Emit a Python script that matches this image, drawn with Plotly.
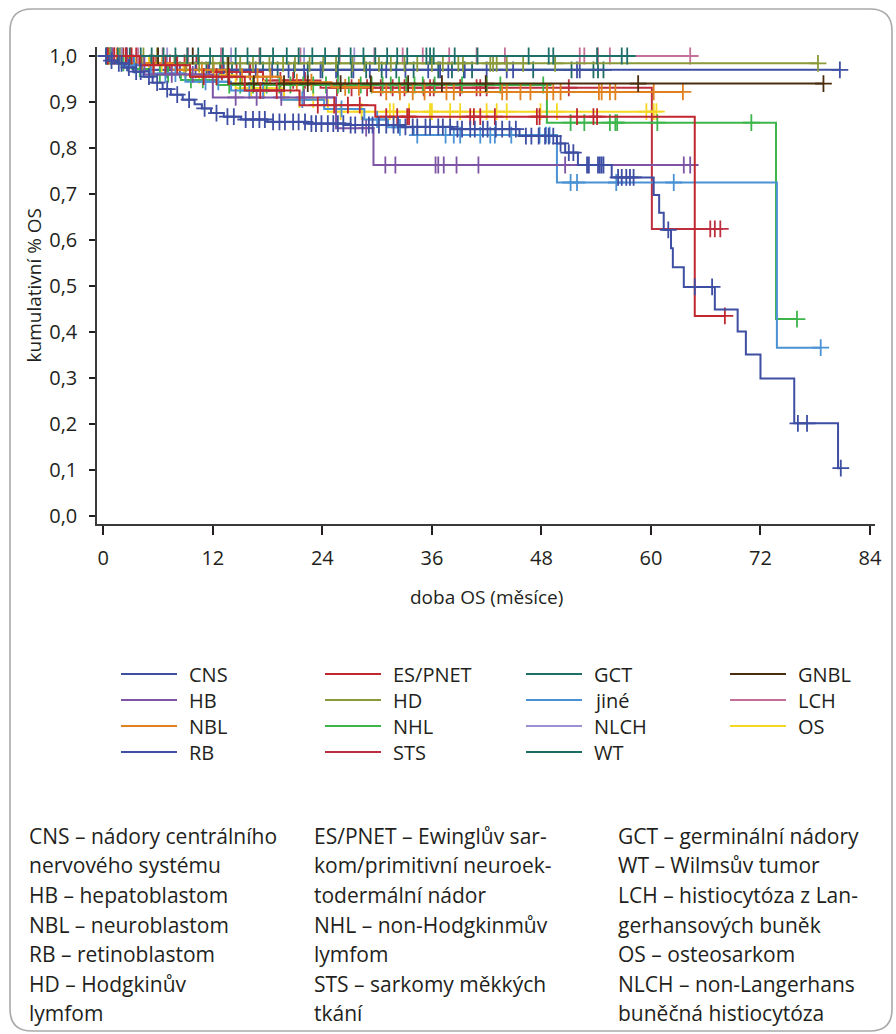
import numpy as np
import plotly.graph_objects as go

# ---------------- data (Kaplan-Meier curves) ----------------
groups = ["CNS", "ES/PNET", "GCT", "GNBL", "HB", "HD", "jiné", "LCH",
          "NBL", "NHL", "NLCH", "OS", "RB", "STS", "WT"]

colors = {
    "CNS": "#3D4EA3", "ES/PNET": "#C0272F", "GCT": "#1E6F68", "GNBL": "#4A2C0E",
    "HB": "#7E55A5", "HD": "#8A9A3A", "jiné": "#4A92D4", "LCH": "#C46F97",
    "NBL": "#E0801F", "NHL": "#3DB54A", "NLCH": "#9C8FD2", "OS": "#F6D824",
    "RB": "#3F4FA3", "STS": "#BD2F3E", "WT": "#1D6A62",
}

# event times (months) and survival after each event; censor times
CNS_t = [0.6, 1.4, 2.3, 3.3, 4.4, 5.4, 6.5, 7.4, 8.7, 10.0, 10.8, 11.8, 13.2, 15.1, 18.0,
         22.4, 26.5, 32.7, 38.2, 45.6, 49.7, 50.6, 52.0, 55.7, 60.3, 60.9, 61.4, 62.2,
         62.4, 63.6, 67.0, 69.5, 70.4, 72.0, 75.7, 80.5]
CNS_s = [0.99, 0.984, 0.975, 0.966, 0.955, 0.942, 0.928, 0.916, 0.905, 0.895, 0.886, 0.876,
         0.868, 0.862, 0.857, 0.853, 0.85, 0.846, 0.841, 0.826, 0.81, 0.79, 0.763, 0.736,
         0.698, 0.659, 0.622, 0.582, 0.541, 0.498, 0.449, 0.401, 0.351, 0.299, 0.2015, 0.104]
CNS_c = [0.3, 0.9, 1.7, 2.0, 2.8, 3.6, 4.1, 5.0, 5.9, 7.0, 8.1, 9.4, 11.1, 12.4, 13.6, 14.3,
         15.6, 16.4, 17.1, 17.7, 18.6, 19.3, 19.9, 20.8, 21.4, 22.1, 22.8, 23.3, 23.9, 24.6,
         25.2, 25.7, 26.3, 27.1, 27.6, 28.4, 29.1, 29.5, 30.2, 31.0, 31.8, 32.3, 33.1, 33.9,
         34.4, 35.3, 35.8, 36.7, 37.2, 38.0, 38.8, 39.3, 40.2, 40.7, 41.6, 42.1, 43.0, 43.7,
         44.5, 45.2, 46.3, 46.9, 47.7, 48.4, 48.8, 49.3, 50.1, 51.0, 51.5, 53.0, 53.2, 54.2,
         54.4, 54.6, 54.8, 56.4, 56.8, 57.3, 57.7, 58.1, 61.9, 64.8, 66.7, 76.1, 77.1, 80.8]

ESP_t = [4.0, 9.5, 15.5, 21.5, 29.8, 64.8]
ESP_s = [0.98, 0.955, 0.925, 0.893, 0.868, 0.435]
ESP_c = [0.5, 1.2, 2.5, 3.1, 5.5, 6.8, 8.1, 11.0, 12.4, 13.8, 17.2, 19.0, 23.5, 25.3, 26.8,
         28.1, 31.0, 32.2, 33.3, 33.5, 40.2, 40.6, 41.3, 42.9, 47.5, 47.8, 51.9, 53.7, 54.1, 68.1]

GCT_t = []
GCT_s = []
GCT_c = [0.4, 1.6, 2.9, 4.1, 5.3, 6.6, 7.9, 9.2, 10.4, 11.7, 13.1, 14.5, 15.8, 17.2, 18.6,
         20.1, 21.4, 22.9, 24.3, 25.8, 27.1, 28.5, 29.8, 31.1, 32.2, 33.3, 35.4, 35.8, 36.2,
         38.5, 41.0, 46.6, 48.8, 49.3, 54.1, 56.8, 57.4]

GNBL_t = [13.7]
GNBL_s = [0.94]
GNBL_c = [2.5, 6.0, 9.8, 16.5, 19.8, 22.4, 26.0, 29.3, 33.4, 37.1, 41.9, 58.6, 78.9]

HB_t = [4.5, 12.0, 25.5, 29.6]
HB_s = [0.96, 0.91, 0.843, 0.763]
HB_c = [1.0, 2.6, 7.5, 9.8, 14.5, 16.8, 19.5, 22.0, 24.5, 28.8, 30.9, 32.0, 36.4, 36.7, 37.3,
        38.7, 41.1, 50.6, 63.6, 64.3]

HD_t = [7.8]
HD_s = [0.984]
HD_c = [0.7, 1.8, 3.0, 4.4, 5.9, 9.1, 10.5, 12.0, 13.6, 15.0, 16.4, 18.2, 19.7, 21.0, 22.6,
        24.1, 25.5, 27.3, 28.6, 30.2, 31.5, 33.0, 34.4, 36.0, 37.2, 38.9, 39.4, 42.4, 42.7,
        43.1, 44.2, 46.0, 49.5, 78.3]

JINE_t = [2.0, 5.2, 9.0, 14.0, 19.5, 24.2, 28.6, 31.2, 34.0, 49.7, 73.8]
JINE_s = [0.98, 0.962, 0.944, 0.925, 0.905, 0.885, 0.862, 0.845, 0.828, 0.725, 0.366]
JINE_c = [0.8, 3.4, 6.8, 7.9, 11.2, 12.6, 16.0, 17.5, 21.8, 26.1, 30.0, 32.5, 34.4, 37.5,
          38.4, 39.1, 41.3, 42.4, 42.9, 44.7, 47.8, 48.5, 48.9, 51.2, 51.9, 56.2, 62.5, 78.6]

LCH_t = []
LCH_s = []
LCH_c = [1.2, 3.8, 6.5, 9.3, 12.9, 17.1, 21.6, 25.9, 29.7, 32.8, 35.0, 37.9, 40.9, 44.0,
         52.2, 52.7, 54.2, 55.5, 64.3]

NBL_t = [2.8, 7.5, 13.5, 19.5, 25.0, 29.5]
NBL_s = [0.985, 0.97, 0.955, 0.943, 0.932, 0.922]
NBL_c = [0.5, 1.5, 4.2, 5.5, 9.0, 10.8, 12.1, 15.2, 16.9, 18.3, 21.2, 22.8, 26.5, 28.0, 31.0,
         32.5, 33.9, 35.2, 37.6, 38.4, 43.7, 44.2, 45.7, 46.8, 48.6, 49.3, 50.1, 54.3, 54.6,
         55.5, 56.1, 60.3, 63.5]

NHL_t = [1.5, 3.2, 5.0, 8.5, 12.5, 48.6, 73.7]
NHL_s = [0.985, 0.972, 0.96, 0.948, 0.937, 0.855, 0.428]
NHL_c = [0.3, 0.9, 2.2, 4.0, 6.2, 7.1, 9.6, 10.9, 13.8, 15.0, 16.4, 17.9, 19.3, 20.5, 21.9,
         23.0, 24.4, 25.7, 26.9, 28.2, 29.4, 30.6, 31.5, 32.4, 33.2, 34.1, 35.0, 36.3, 39.3,
         42.0, 43.5, 48.2, 51.2, 52.7, 55.5, 56.1, 56.3, 60.7, 71.0, 76.0]

NLCH_t = []
NLCH_s = []
NLCH_c = [2.0, 7.0, 14.0, 22.0, 27.5]

OS_t = [1.8, 8.8, 14.5, 19.8, 24.6]
OS_s = [0.982, 0.958, 0.93, 0.905, 0.879]
OS_c = [0.6, 3.5, 5.0, 6.4, 10.5, 12.0, 16.2, 17.6, 21.5, 23.0, 26.0, 28.3, 31.4, 31.8, 33.5,
        35.8, 36.0, 38.0, 39.1, 42.0, 43.1, 44.2, 47.9, 49.7, 59.5, 60.3, 60.6]

RB_t = [1.5, 4.2]
RB_s = [0.985, 0.97]
RB_c = [0.5, 2.6, 3.3, 5.5, 7.0, 8.4, 10.1, 11.6, 13.2, 15.0, 16.7, 18.5, 20.3, 22.0, 23.8,
        25.5, 27.4, 29.2, 31.0, 33.1, 35.6, 36.9, 37.8, 39.6, 42.0, 44.2, 44.9, 51.9, 52.2, 80.7]

STS_t = [5.8, 11.5, 17.5, 23.8, 60.1]
STS_s = [0.985, 0.965, 0.947, 0.931, 0.624]
STS_c = [0.9, 2.2, 3.6, 7.3, 8.9, 10.2, 13.0, 14.6, 16.1, 19.4, 20.8, 22.1, 25.6, 27.2, 28.9,
         30.4, 31.7, 33.0, 35.1, 35.8, 36.2, 39.1, 40.9, 41.3, 42.0, 51.0, 66.5, 67.0, 67.6]

WT_t = [3.5, 9.5]
WT_s = [0.985, 0.97]
WT_c = [0.8, 2.0, 5.1, 6.9, 8.0, 11.3, 12.8, 14.1, 16.0, 17.5, 19.1, 20.9, 22.4, 24.0, 25.7,
        27.2, 28.8, 30.5, 32.1, 34.0, 36.7, 38.2, 39.5, 40.4, 47.1, 51.3, 53.7, 54.2, 54.8]

series = {
    "CNS": (CNS_t, CNS_s, CNS_c), "ES/PNET": (ESP_t, ESP_s, ESP_c),
    "GCT": (GCT_t, GCT_s, GCT_c), "GNBL": (GNBL_t, GNBL_s, GNBL_c),
    "HB": (HB_t, HB_s, HB_c), "HD": (HD_t, HD_s, HD_c), "jiné": (JINE_t, JINE_s, JINE_c),
    "LCH": (LCH_t, LCH_s, LCH_c), "NBL": (NBL_t, NBL_s, NBL_c), "NHL": (NHL_t, NHL_s, NHL_c),
    "NLCH": (NLCH_t, NLCH_s, NLCH_c), "OS": (OS_t, OS_s, OS_c), "RB": (RB_t, RB_s, RB_c),
    "STS": (STS_t, STS_s, STS_c), "WT": (WT_t, WT_s, WT_c),
}

x_ticks = [0, 12, 24, 36, 48, 60, 72, 84]
y_ticks = [0.0, 0.1, 0.2, 0.3, 0.4, 0.5, 0.6, 0.7, 0.8, 0.9, 1.0]
y_ticktext = ["0,0", "0,1", "0,2", "0,3", "0,4", "0,5", "0,6", "0,7", "0,8", "0,9", "1,0"]

notes = [
    ["CNS – nádory centrálního", "nervového systému", "HB – hepatoblastom",
     "NBL – neuroblastom", "RB – retinoblastom", "HD – Hodgkinův", "lymfom"],
    ["ES/PNET – Ewinglův sar-", "kom/primitivní neuroek-", "todermální nádor",
     "NHL – non-Hodgkinmův", "lymfom", "STS – sarkomy měkkých", "tkání"],
    ["GCT – germinální nádory", "WT – Wilmsův tumor", "LCH – histiocytóza z Lan-",
     "gerhansových buněk", "OS – osteosarkom", "NLCH – non-Langerhans",
     "buněčná histiocytóza"],
]

# ---------------- layout geometry (pixels) ----------------
W, H = 896, 1034
L, R, T, B = 97, 875, 47, 524
FONT = "Open Sans"
TXT = "#231F20"


def xp(px):
    return (px - L) / (R - L)


def yp(py):
    return (B - py) / (B - T)


fig = go.Figure()

draw_order = ["WT", "STS", "RB", "OS", "NLCH", "NHL", "NBL", "LCH", "jiné", "HD",
              "HB", "GNBL", "GCT", "ES/PNET", "CNS"]

for g in draw_order:
    t, s, c = series[g]
    t = np.array(t, dtype=float)
    s = np.array(s, dtype=float)
    c = np.array(c, dtype=float)
    end = max(t.max() if t.size else 0.0, c.max() if c.size else 0.0)
    xs = np.concatenate([[0.0], t, [end]])
    last = s[-1] if s.size else 1.0
    ys = np.concatenate([[1.0], s, [last]])
    fig.add_trace(go.Scatter(x=xs, y=ys, mode="lines", line=dict(color=colors[g], width=2, shape="hv"),
                             name=g, showlegend=False, hoverinfo="skip"))
    idx = np.searchsorted(t, c, side="right")
    sv = np.concatenate([[1.0], s])
    cy = sv[idx]
    fig.add_trace(go.Scatter(x=c, y=cy, mode="markers",
                             marker=dict(symbol="cross-thin", size=12,
                                         line=dict(color=colors[g], width=1.8)),
                             showlegend=False, hoverinfo="skip"))

# ---------------- legend (drawn manually, 4 columns) ----------------
leg_rows = [["CNS", "ES/PNET", "GCT", "GNBL"],
            ["HB", "HD", "jiné", "LCH"],
            ["NBL", "NHL", "NLCH", "OS"],
            ["RB", "STS", "WT"]]
leg_col_x = [121, 325, 526, 730]
leg_row_y = [674, 700, 726, 752]
shapes = []
annotations = []
for r, row in enumerate(leg_rows):
    for ci, g in enumerate(row):
        x0 = leg_col_x[ci]
        y0 = leg_row_y[r]
        shapes.append(dict(type="line", xref="paper", yref="paper",
                           x0=xp(x0), x1=xp(x0 + 56), y0=yp(y0), y1=yp(y0),
                           line=dict(color=colors[g], width=2)))
        annotations.append(dict(text=g, xref="paper", yref="paper", x=xp(x0 + 66), y=yp(y0),
                                xanchor="left", yanchor="middle", showarrow=False,
                                font=dict(family=FONT, size=20, color=TXT)))

# ---------------- notes ----------------
note_x = [27, 312, 616]
for ci, col in enumerate(notes):
    for li, line in enumerate(col):
        annotations.append(dict(text=line, xref="paper", yref="paper", x=xp(note_x[ci]),
                                y=yp(836 + 29.5 * li), xanchor="left", yanchor="middle",
                                showarrow=False, font=dict(family=FONT, size=21, color=TXT)))

# axis titles
annotations.append(dict(text="doba OS (měsíce)", xref="paper", yref="paper", x=0.5, y=yp(597),
                        xanchor="center", yanchor="middle", showarrow=False,
                        font=dict(family=FONT, size=19, color=TXT)))
annotations.append(dict(text="kumulativní % OS", xref="paper", yref="paper", x=xp(33),
                        y=yp(285.5), xanchor="center", yanchor="middle", textangle=-90,
                        showarrow=False, font=dict(family=FONT, size=19, color=TXT)))

# rounded frame
bx0, by0, bx1, by1, rr = 10, 9, 892, 1031, 22
path = (f"M {xp(bx0 + rr)},{yp(by0)} L {xp(bx1 - rr)},{yp(by0)} "
        f"Q {xp(bx1)},{yp(by0)} {xp(bx1)},{yp(by0 + rr)} L {xp(bx1)},{yp(by1 - rr)} "
        f"Q {xp(bx1)},{yp(by1)} {xp(bx1 - rr)},{yp(by1)} L {xp(bx0 + rr)},{yp(by1)} "
        f"Q {xp(bx0)},{yp(by1)} {xp(bx0)},{yp(by1 - rr)} L {xp(bx0)},{yp(by0 + rr)} "
        f"Q {xp(bx0)},{yp(by0)} {xp(bx0 + rr)},{yp(by0)} Z")
shapes.append(dict(type="path", xref="paper", yref="paper", path=path,
                   line=dict(color="#A7A9AC", width=1.6), layer="below"))

x0px = 103.3
ppm = (870.0 - 103.3) / 84.0
xr = [(L - x0px) / ppm, (R - x0px) / ppm]
ppu = 460.0
yr = [-(B - 516) / ppu, 1 + (56 - T) / ppu]

fig.update_layout(
    width=W, height=H,
    margin=dict(l=L, r=W - R, t=T, b=H - B, pad=0),
    paper_bgcolor="white", plot_bgcolor="white",
    font=dict(family=FONT, color=TXT),
    shapes=shapes, annotations=annotations,
    xaxis=dict(range=xr, tickvals=x_ticks, ticks="outside", ticklen=9, tickwidth=1.5,
               tickcolor=TXT, showline=True, linecolor="#3a3a3a", linewidth=1.5,
               showgrid=False, zeroline=False, tickfont=dict(family=FONT, size=20, color=TXT),
               ticklabelstandoff=6),
    yaxis=dict(range=yr, tickvals=y_ticks, ticktext=y_ticktext, ticks="outside", ticklen=6,
               tickwidth=1.5, tickcolor=TXT, showline=True, linecolor="#3a3a3a", linewidth=1.5,
               showgrid=False, zeroline=False, tickfont=dict(family=FONT, size=20, color=TXT),
               ticklabelstandoff=8),
)

fig.write_html("out.html", config={"displayModeBar": False},
               post_script="document.body.style.margin='0px';")
